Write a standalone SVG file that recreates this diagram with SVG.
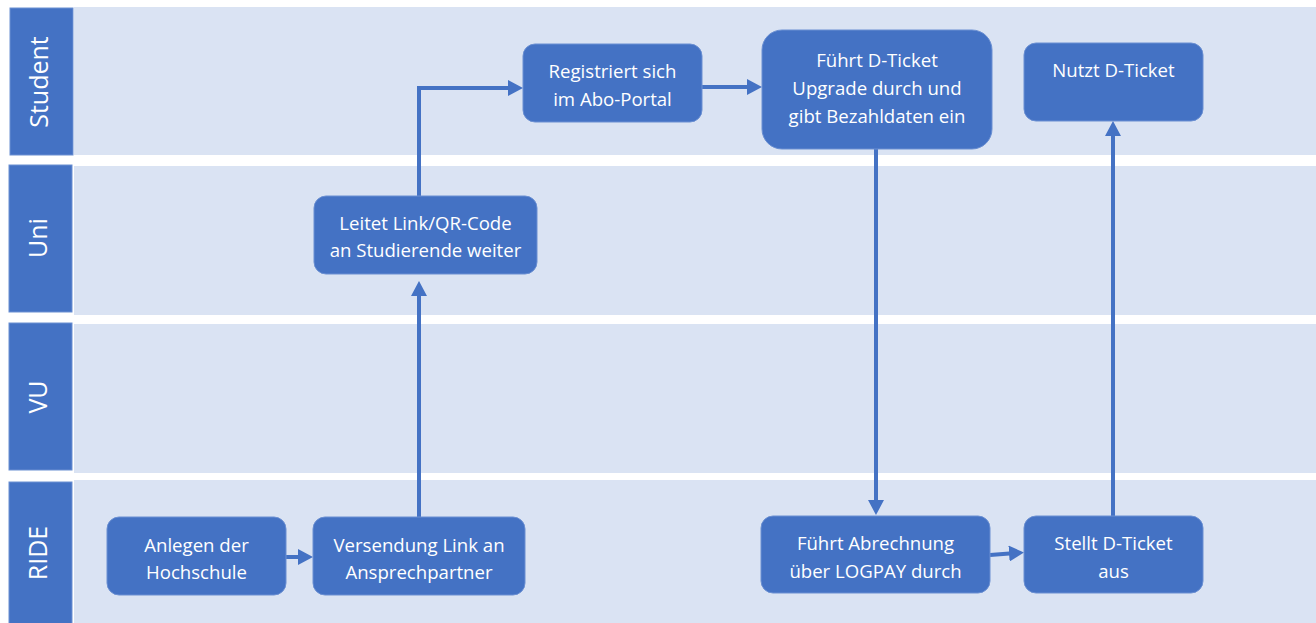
<svg xmlns="http://www.w3.org/2000/svg" width="1316" height="623" viewBox="0 0 1316 623">
<defs>
<style>
.hdr{fill:#4472C4;stroke:#6A8FD2;stroke-width:1}
.bg{fill:#DAE3F3}
.node rect{fill:#4472C4;stroke:#6A8FD2;stroke-width:1}
.lbl{fill:#FFFFFF;font-family:"Open Sans","Liberation Sans",sans-serif;font-size:18.6px;text-anchor:middle}
.lane{fill:#FFFFFF;font-family:"Open Sans","Liberation Sans",sans-serif;font-size:25px;text-anchor:middle}
.con path{fill:none;stroke:#4472C4;stroke-width:4;marker-end:url(#arr)}
</style>
<marker id="arr" viewBox="0 0 15 16" refX="7" refY="8" markerWidth="15" markerHeight="16" markerUnits="userSpaceOnUse" orient="auto">
<path d="M0,0 L15,8 L0,16 Z" fill="#4472C4"/>
</marker>
</defs>
<rect width="1316" height="623" fill="#FFFFFF"/>
<g id="lane-student">
<rect class="bg" x="74" y="7" width="1242" height="148"/>
<rect class="hdr" x="10" y="8" width="63" height="147"/>
<text class="lane" transform="translate(48,82) rotate(-90)">Student</text>
</g>
<g id="lane-uni">
<rect class="bg" x="74" y="166" width="1242" height="149"/>
<rect class="hdr" x="9" y="165" width="63" height="147"/>
<text class="lane" transform="translate(47,238) rotate(-90)">Uni</text>
</g>
<g id="lane-vu">
<rect class="bg" x="74" y="324" width="1242" height="149"/>
<rect class="hdr" x="9" y="323" width="63" height="147"/>
<text class="lane" transform="translate(47,397) rotate(-90)">VU</text>
</g>
<g id="lane-ride">
<rect class="bg" x="74" y="480" width="1242" height="143"/>
<rect class="hdr" x="9" y="482" width="63" height="142"/>
<text class="lane" transform="translate(47,553) rotate(-90)">RIDE</text>
</g>
<g id="connectors" class="con">
<path d="M286,557 H305"/>
<path d="M419,517 V289"/>
<path d="M419,196 V88 H515"/>
<path d="M702,87 H754"/>
<path d="M876,149 V507"/>
<path d="M990,555 L1016,553"/>
<path d="M1113,516 V129"/>
</g>
<g id="n-anlegen" class="node">
<rect x="107" y="517" width="179" height="78" rx="12"/>
<text class="lbl" x="196.5" y="552">Anlegen der</text>
<text class="lbl" x="196.5" y="579">Hochschule</text>
</g>
<g id="n-versendung" class="node">
<rect x="313" y="517" width="212" height="78" rx="12"/>
<text class="lbl" x="419" y="552">Versendung Link an</text>
<text class="lbl" x="419" y="579">Ansprechpartner</text>
</g>
<g id="n-leitet" class="node">
<rect x="314" y="196" width="223" height="78" rx="12"/>
<text class="lbl" x="425.5" y="230">Leitet Link/QR-Code</text>
<text class="lbl" x="425.5" y="257">an Studierende weiter</text>
</g>
<g id="n-registriert" class="node">
<rect x="523" y="44" width="179" height="78" rx="12"/>
<text class="lbl" x="612.5" y="78">Registriert sich</text>
<text class="lbl" x="612.5" y="106">im Abo-Portal</text>
</g>
<g id="n-upgrade" class="node">
<rect x="762" y="30" width="230" height="119" rx="20"/>
<text class="lbl" x="877" y="67">Führt D-Ticket</text>
<text class="lbl" x="877" y="95">Upgrade durch und</text>
<text class="lbl" x="877" y="123">gibt Bezahldaten ein</text>
</g>
<g id="n-nutzt" class="node">
<rect x="1024" y="43" width="179" height="78" rx="12"/>
<text class="lbl" x="1113.5" y="77">Nutzt D-Ticket</text>
</g>
<g id="n-abrechnung" class="node">
<rect x="761" y="516" width="229" height="77" rx="12"/>
<text class="lbl" x="875.5" y="550">Führt Abrechnung</text>
<text class="lbl" x="875.5" y="578">über LOGPAY durch</text>
</g>
<g id="n-stellt" class="node">
<rect x="1024" y="516" width="179" height="77" rx="12"/>
<text class="lbl" x="1113.5" y="550">Stellt D-Ticket</text>
<text class="lbl" x="1113.5" y="578">aus</text>
</g>
</svg>
